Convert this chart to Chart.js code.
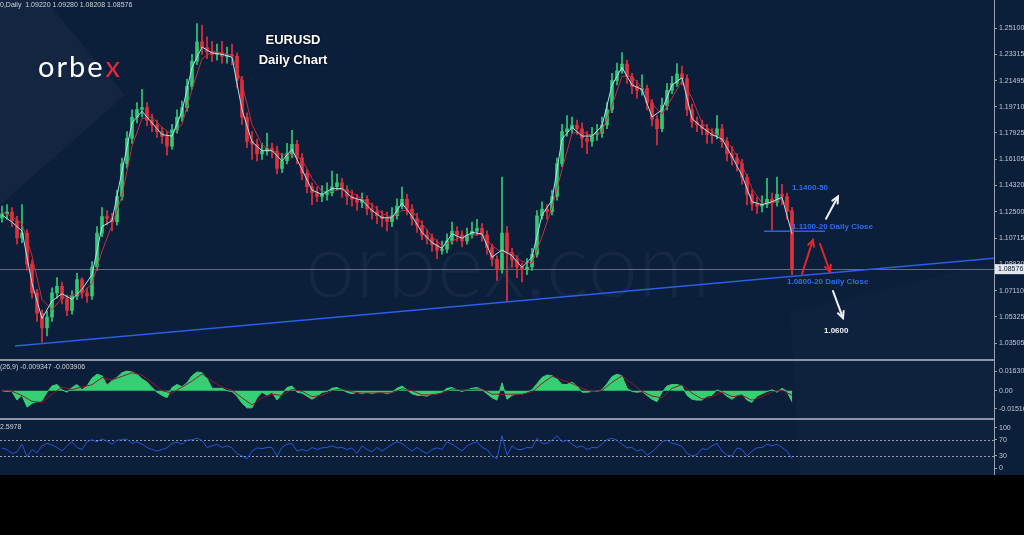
<!DOCTYPE html>
<html>
<head>
<meta charset="utf-8">
<script src="https://cdn.jsdelivr.net/npm/chart.js@4.4.0/dist/chart.umd.min.js"></script>
<style>
  html, body { margin: 0; padding: 0; background: #000; }
  #wrap { position: relative; width: 1024px; height: 535px; background: #000; overflow: hidden; }
  #bg { position: absolute; left: 0; top: 0; width: 1024px; height: 475px; background: #0b1e3a; }
  #shade { position: absolute; left: 0; top: 0; }
  canvas { position: absolute; left: 0; }
  #c1 { top: 0; }
  #c2 { top: 361px; }
  #c3 { top: 421px; }
  .sep { position: absolute; left: 0; width: 994px; height: 2px; background: #8e96a3; }
  #axisLine { position: absolute; left: 994px; top: 0; width: 1px; height: 475px; background: #9aa1ad; }
</style>
</head>
<body>
<div id="wrap">
  <div id="bg"></div>
  <svg id="shade" width="1024" height="475">
    <polygon points="0,0 45,0 125,95 0,205" fill="rgba(255,255,255,0.035)"/>
    <polygon points="790,312 994,262 994,475 800,475" fill="rgba(255,255,255,0.014)"/>
  </svg>
  <canvas id="c1" width="1024" height="360"></canvas>
  <canvas id="c2" width="1024" height="57"></canvas>
  <canvas id="c3" width="1024" height="54"></canvas>
  <div class="sep" style="top:359px"></div>
  <div class="sep" style="top:418px"></div>
  <div id="axisLine"></div>
</div>
<script>
// EURUSD daily, one entry per ~5px slot of the original chart
const firstOpen = 1.1210;
const closes = [
  1.1237,1.1250,1.1191,1.1072,1.1105,1.0893,1.0695,1.0556,1.0456,1.0529,
  1.0695,1.0741,1.0655,1.0576,1.0675,1.0787,1.0695,1.0675,1.0873,1.1105,
  1.1218,1.1205,1.1184,1.1356,1.1581,1.1754,1.1899,1.1952,1.1965,1.1879,
  1.1846,1.1800,1.1767,1.1701,1.1813,1.1899,1.1965,1.2111,1.2283,1.2415,
  1.2376,1.2349,1.2329,1.2343,1.2316,1.2329,1.2316,1.2151,1.1899,1.1734,
  1.1714,1.1648,1.1668,1.1687,1.1668,1.1548,1.1601,1.1648,1.1714,1.1621,
  1.1515,1.1423,1.1383,1.1356,1.1370,1.1383,1.1423,1.1449,1.1403,1.1356,
  1.1337,1.1317,1.1337,1.1270,1.1251,1.1224,1.1204,1.1184,1.1224,1.1290,
  1.1337,1.1270,1.1204,1.1158,1.1092,1.1072,1.1026,1.0986,1.0995,1.1052,
  1.1118,1.1092,1.1052,1.1092,1.1118,1.1138,1.1092,1.1006,1.0926,1.0854,
  1.1105,1.0973,1.0920,1.0873,1.0854,1.0873,1.0959,1.1224,1.1270,1.1251,
  1.1356,1.1581,1.1800,1.1820,1.1846,1.1820,1.1754,1.1734,1.1780,1.1790,
  1.1846,1.1952,1.2151,1.2217,1.2263,1.2177,1.2111,1.2084,1.2095,1.1998,
  1.1886,1.1820,1.1979,1.2084,1.2131,1.2197,1.2164,1.1952,1.1866,1.1846,
  1.1820,1.1780,1.1772,1.1820,1.1734,1.1648,1.1621,1.1581,1.1489,1.1370,
  1.1304,1.1290,1.1304,1.1337,1.1317,1.1370,1.1356,1.1257,1.0858
];
const highs = [
  1.1290,1.1300,1.1280,1.1220,1.1300,1.1130,1.0920,1.0720,1.0580,1.0570,
  1.0730,1.0800,1.0770,1.0680,1.0710,1.0830,1.0800,1.0730,1.0910,1.1150,
  1.1280,1.1260,1.1240,1.1400,1.1620,1.1800,1.1950,1.2000,1.2090,1.2000,
  1.1920,1.1880,1.1830,1.1800,1.1850,1.1950,1.2010,1.2160,1.2330,1.2541,
  1.2530,1.2450,1.2420,1.2400,1.2420,1.2380,1.2400,1.2340,1.2180,1.1930,
  1.1800,1.1750,1.1720,1.1790,1.1720,1.1700,1.1650,1.1720,1.1810,1.1740,
  1.1650,1.1540,1.1450,1.1420,1.1430,1.1450,1.1530,1.1510,1.1480,1.1430,
  1.1400,1.1370,1.1380,1.1360,1.1310,1.1290,1.1260,1.1250,1.1280,1.1340,
  1.1420,1.1370,1.1300,1.1240,1.1190,1.1130,1.1100,1.1060,1.1050,1.1100,
  1.1180,1.1150,1.1120,1.1140,1.1180,1.1200,1.1170,1.1120,1.1030,1.0950,
  1.1489,1.1150,1.1000,1.0950,1.0900,1.0930,1.1000,1.1260,1.1320,1.1300,
  1.1400,1.1620,1.1850,1.1910,1.1900,1.1880,1.1860,1.1800,1.1830,1.1850,
  1.1900,1.2000,1.2200,1.2270,1.2343,1.2290,1.2200,1.2150,1.2190,1.2120,
  1.2020,1.1910,1.2030,1.2130,1.2180,1.2266,1.2250,1.2190,1.1990,1.1900,
  1.1880,1.1850,1.1820,1.1910,1.1850,1.1760,1.1700,1.1650,1.1610,1.1510,
  1.1400,1.1350,1.1360,1.1480,1.1380,1.1489,1.1440,1.1380,1.1280
];
const lows = [
  1.1180,1.1200,1.1150,1.1030,1.1040,1.0850,1.0660,1.0500,1.0357,1.0400,
  1.0500,1.0660,1.0620,1.0540,1.0550,1.0650,1.0660,1.0630,1.0650,1.0850,
  1.1080,1.1160,1.1120,1.1160,1.1330,1.1550,1.1720,1.1860,1.1900,1.1840,
  1.1800,1.1760,1.1720,1.1640,1.1680,1.1790,1.1870,1.1940,1.2090,1.2260,
  1.2330,1.2300,1.2280,1.2290,1.2270,1.2270,1.2260,1.2100,1.1850,1.1690,
  1.1610,1.1600,1.1610,1.1640,1.1620,1.1510,1.1520,1.1580,1.1620,1.1580,
  1.1470,1.1380,1.1300,1.1320,1.1320,1.1330,1.1360,1.1400,1.1350,1.1300,
  1.1290,1.1260,1.1280,1.1230,1.1200,1.1170,1.1150,1.1120,1.1150,1.1200,
  1.1270,1.1230,1.1160,1.1110,1.1060,1.1030,1.0980,1.0930,1.0960,1.0970,
  1.1030,1.1050,1.1010,1.1030,1.1070,1.1090,1.1050,1.0960,1.0880,1.0780,
  1.0830,1.0636,1.0870,1.0800,1.0770,1.0820,1.0850,1.0940,1.1200,1.1200,
  1.1230,1.1330,1.1560,1.1770,1.1790,1.1780,1.1690,1.1650,1.1700,1.1740,
  1.1760,1.1820,1.1930,1.2120,1.2200,1.2130,1.2060,1.2030,1.2050,1.1950,
  1.1840,1.1710,1.1800,1.1950,1.2060,1.2110,1.2120,1.1910,1.1830,1.1800,
  1.1780,1.1720,1.1720,1.1750,1.1690,1.1600,1.1570,1.1530,1.1440,1.1300,
  1.1260,1.1240,1.1250,1.1280,1.1125,1.1290,1.1300,1.1200,1.0821
];
// moving averages, one value every second slot
const maFast = [
  1.1230,1.1180,1.1120,1.0760,1.0520,1.0640,1.0690,1.0650,1.0720,1.0820,
  1.1150,1.1190,1.1530,1.1860,1.1940,1.1860,1.1780,1.1770,1.1940,1.2240,
  1.2380,1.2340,1.2330,1.2310,1.1950,1.1730,1.1670,1.1670,1.1600,1.1680,
  1.1540,1.1400,1.1370,1.1410,1.1410,1.1350,1.1330,1.1260,1.1210,1.1210,
  1.1310,1.1220,1.1110,1.1040,1.1000,1.1100,1.1070,1.1110,1.1100,1.0940,
  1.0990,1.0950,1.0870,1.0940,1.1230,1.1330,1.1750,1.1830,1.1770,1.1770,
  1.1840,1.2120,1.2240,1.2120,1.2090,1.1900,1.1950,1.2120,1.2170,1.1890,
  1.1830,1.1780,1.1750,1.1630,1.1500,1.1320,1.1300,1.1320,1.1350,1.1100
];
const maSlow = [
  1.1250,1.1220,1.1170,1.0950,1.0650,1.0580,1.0660,1.0680,1.0690,1.0760,
  1.0980,1.1160,1.1360,1.1700,1.1890,1.1900,1.1830,1.1780,1.1850,1.2090,
  1.2300,1.2350,1.2340,1.2320,1.2130,1.1850,1.1710,1.1670,1.1640,1.1640,
  1.1610,1.1480,1.1390,1.1390,1.1410,1.1380,1.1340,1.1300,1.1240,1.1210,
  1.1260,1.1260,1.1170,1.1080,1.1020,1.1050,1.1080,1.1090,1.1100,1.1020,
  1.0970,1.0970,1.0910,1.0900,1.1080,1.1280,1.1540,1.1790,1.1800,1.1770,
  1.1800,1.1980,1.2180,1.2180,1.2100,1.1990,1.1920,1.2030,1.2150,1.2030,
  1.1860,1.1800,1.1760,1.1690,1.1570,1.1410,1.1310,1.1310,1.1340,1.1230
];
const macd = [
  0.0000,-0.0007,-0.0007,-0.0079,-0.0039,-0.0138,-0.0105,-0.0092,-0.0085,-0.0013,
  0.0039,0.0052,0.0007,-0.0013,0.0026,0.0052,0.0007,0.0039,0.0105,0.0138,
  0.0125,0.0046,0.0085,0.0111,0.0151,0.0164,0.0157,0.0138,0.0098,0.0072,
  0.0026,-0.0013,-0.0039,-0.0059,0.0026,0.0052,0.0033,0.0066,0.0125,0.0157,
  0.0151,0.0105,0.0020,0.0020,0.0020,0.0000,-0.0007,-0.0046,-0.0105,-0.0144,
  -0.0144,-0.0059,-0.0013,-0.0039,-0.0013,-0.0079,-0.0026,0.0026,0.0039,-0.0013,
  -0.0020,-0.0046,-0.0072,-0.0046,-0.0013,-0.0007,0.0020,0.0026,0.0007,-0.0013,
  -0.0026,-0.0013,-0.0026,-0.0013,-0.0026,-0.0013,-0.0013,-0.0026,-0.0013,0.0020,
  0.0039,0.0007,-0.0026,-0.0039,-0.0039,-0.0046,-0.0026,-0.0026,-0.0013,0.0020,
  0.0026,0.0007,-0.0007,0.0007,0.0020,0.0026,0.0007,-0.0026,-0.0059,-0.0079,
  0.0066,-0.0072,-0.0039,-0.0026,-0.0026,-0.0013,0.0007,0.0059,0.0111,0.0131,
  0.0125,0.0098,0.0052,0.0052,0.0072,0.0039,-0.0013,-0.0013,-0.0007,-0.0007,
  0.0007,0.0059,0.0118,0.0138,0.0125,0.0020,-0.0007,-0.0013,-0.0007,-0.0039,
  -0.0072,-0.0092,-0.0013,0.0039,0.0052,0.0052,0.0039,-0.0039,-0.0072,-0.0079,
  -0.0079,-0.0046,-0.0039,0.0007,-0.0013,-0.0046,-0.0072,-0.0039,-0.0026,-0.0079,
  -0.0098,-0.0046,-0.0026,-0.0007,0.0007,-0.0013,0.0020,-0.0007,-0.0093
];
const macdSignal = [
  0.0005,-0.0005,-0.0040,-0.0090,-0.0100,-0.0030,0.0030,0.0010,0.0030,0.0050,
  0.0110,0.0090,0.0120,0.0150,0.0130,0.0070,0.0000,-0.0020,0.0030,0.0080,
  0.0140,0.0080,0.0030,0.0005,-0.0060,-0.0120,-0.0060,-0.0030,-0.0040,0.0010,
  -0.0005,-0.0050,-0.0040,0.0000,0.0015,-0.0010,-0.0020,-0.0020,-0.0018,-0.0018,
  0.0015,0.0000,-0.0035,-0.0035,-0.0020,0.0015,0.0005,0.0010,0.0015,-0.0030,
  -0.0030,-0.0030,-0.0030,-0.0010,0.0060,0.0120,0.0090,0.0060,0.0020,-0.0008,
  0.0000,0.0070,0.0125,0.0060,-0.0005,-0.0045,-0.0060,0.0020,0.0050,-0.0020,
  -0.0070,-0.0050,-0.0010,-0.0050,-0.0040,-0.0080,-0.0050,-0.0010,0.0005,-0.0039
];
const rsi = [
  49.5,45.7,36.2,40,59,28,45.7,38,55,61,
  57,51,42,55,65,51,46,65,70,65,
  72,67,59,69,70,72,61,65,59,51,
  46,42,46,50,61,64,59,69,70,74,
  68,51,55,59,51,55,50,36,30,23,
  42,50,48,51,51,30,51,59,61,42,
  46,42,51,46,50,51,55,50,51,46,
  50,36,55,46,40,51,42,50,59,65,
  61,51,42,51,42,36,46,50,46,65,
  59,51,42,55,61,65,51,46,30,23,
  80,32,55,46,46,51,50,74,61,61,
  69,80,65,69,59,51,55,46,51,50,
  59,70,74,69,59,50,51,42,46,32,
  40,51,65,69,61,59,53,37,30,33,
  48,46,55,61,42,32,30,50,46,30,
  42,50,51,59,55,59,51,42,23
];

// axis labels (MT4 style price ladder)
const priceTicks = [1.25100,1.23315,1.21495,1.19710,1.17925,1.16105,1.14320,1.12500,1.10715,1.08930,1.07110,1.05325,1.03505];
const macdTicks = [0.016306, 0, -0.01516];
const macdTickLabels = ['0.016306', '0.00', '-0.01516'];
const rsiTicks = [100, 70, 30, 0];
const rsiLevels = [70, 30];

// drawn objects, in slot / price units
const trendX = [2.6, 198.4];
const trendY = [1.0331, 1.0933];
const supportX = [152.4, 164.6];
const supportY = [1.1118, 1.1118];
const arrowFrom = [[160.0, 1.0827], [163.6, 1.1032], [164.8, 1.1204], [166.2, 1.0708]];
const arrowTo = [[162.2, 1.1059], [165.6, 1.0840], [167.2, 1.1356], [168.2, 1.0523]];
const arrowColors = ['#e3262e', '#e3262e', '#eef0f4', '#eef0f4'];
const noteText = ['1.1400-50', '1.1100-20 Daily Close', '1.0800-20 Daily Close', '1.0600'];
const noteAt = [[158.0, 1.1416], [158.0, 1.1151], [157.0, 1.0768], [164.4, 1.0437]];
const noteColors = ['#2f6cf0', '#2f6cf0', '#2f6cf0', '#f2f4f8'];

const headerText = '0,Daily  1.09220 1.09280 1.08208 1.08576';
const macdLabel = '(26,9) -0.009347 -0.003906';
const rsiLabel = '2.5978';

const X_MIN = -0.4, X_MAX = 198.4;
const UP = '#33c873', DOWN = '#e2303c';
const axisFont = { family: 'Liberation Sans, Arial', size: 7 };

const opens = closes.map((c, i) => i === 0 ? firstOpen : closes[i - 1]);
const candleColors = closes.map((c, i) => c >= opens[i] ? UP : DOWN);

function rightAxis(min, max, ticks, fmt) {
  return {
    position: 'right', min: min, max: max,
    afterFit: s => { s.width = 30; },
    afterBuildTicks: s => { s.ticks = ticks.map(v => ({ value: v })); },
    ticks: { color: '#c3c8d2', font: axisFont, padding: 2, autoSkip: false, callback: fmt },
    grid: { drawOnChartArea: false, drawTicks: true, tickLength: 3, color: '#9aa1ad' },
    border: { color: '#9aa1ad' }
  };
}
function xAxis() {
  return { type: 'linear', min: X_MIN, max: X_MAX, offset: false, display: false };
}

function arrow(ctx, x0, y0, x1, y1, color) {
  const a = Math.atan2(y1 - y0, x1 - x0), h = 7;
  ctx.strokeStyle = color;
  ctx.lineWidth = 2;
  ctx.lineCap = 'round';
  ctx.beginPath(); ctx.moveTo(x0, y0); ctx.lineTo(x1, y1); ctx.stroke();
  ctx.beginPath();
  ctx.moveTo(x1 - h * Math.cos(a - 0.45), y1 - h * Math.sin(a - 0.45));
  ctx.lineTo(x1, y1);
  ctx.lineTo(x1 - h * Math.cos(a + 0.45), y1 - h * Math.sin(a + 0.45));
  ctx.stroke();
}

const mainDeco = {
  id: 'mainDeco',
  beforeDatasetsDraw(chart) {
    const ctx = chart.ctx, y = chart.scales.y, a = chart.chartArea;
    ctx.save();
    // watermark
    ctx.font = '300 90px Lato';
    ctx.fillStyle = 'rgba(255,255,255,0.045)';
    ctx.textBaseline = 'alphabetic';
    ctx.fillText('orbex.com', 305, 297);
    // last price line
    const py = Math.round(y.getPixelForValue(closes[closes.length - 1])) + 0.5;
    ctx.strokeStyle = 'rgba(170,176,188,0.55)';
    ctx.lineWidth = 1;
    ctx.beginPath(); ctx.moveTo(a.left, py); ctx.lineTo(a.right, py); ctx.stroke();
    ctx.restore();
  },
  afterDatasetsDraw(chart) {
    const ctx = chart.ctx, x = chart.scales.x, y = chart.scales.y;
    ctx.save();
    arrowFrom.forEach((p, i) => {
      arrow(ctx, x.getPixelForValue(p[0]), y.getPixelForValue(p[1]),
        x.getPixelForValue(arrowTo[i][0]), y.getPixelForValue(arrowTo[i][1]), arrowColors[i]);
    });
    ctx.font = 'bold 8px Liberation Sans, Arial';
    ctx.textBaseline = 'middle';
    noteText.forEach((t, i) => {
      ctx.fillStyle = noteColors[i];
      ctx.fillText(t, x.getPixelForValue(noteAt[i][0]), y.getPixelForValue(noteAt[i][1]));
    });
    ctx.restore();
  },
  afterDraw(chart) {
    const ctx = chart.ctx, y = chart.scales.y;
    ctx.save();
    // header line
    ctx.font = '7px Liberation Sans, Arial';
    ctx.fillStyle = '#d0d4dc';
    ctx.textBaseline = 'middle';
    ctx.fillText(headerText, 0, 5);
    // last price tag on axis
    const py = y.getPixelForValue(closes[closes.length - 1]);
    ctx.fillStyle = '#e4e7ec';
    ctx.fillRect(995, py - 5, 29, 10);
    ctx.fillStyle = '#0b1e3a';
    ctx.fillText('1.08576', 998, py);
    // logo
    ctx.font = '400 29px Lato';
    ctx.letterSpacing = '2px';
    ctx.textBaseline = 'alphabetic';
    ctx.fillStyle = '#ffffff';
    ctx.fillText('orbe', 38, 77);
    const w = ctx.measureText('orbe').width;
    ctx.fillStyle = '#e8283c';
    ctx.fillText('x', 38 + w + 1, 77);
    ctx.letterSpacing = '0px';
    // title
    ctx.font = 'bold 13px Liberation Sans, Arial';
    ctx.textAlign = 'center';
    ctx.fillStyle = '#ffffff';
    ctx.shadowColor = 'rgba(0,0,0,0.9)';
    ctx.shadowBlur = 2;
    ctx.fillText('EURUSD', 293, 44);
    ctx.fillText('Daily Chart', 293, 64);
    ctx.restore();
  }
};

new Chart(document.getElementById('c1'), {
  type: 'bar',
  data: {
    datasets: [
      { type: 'line', data: maFast.map((v, i) => ({ x: i * 2, y: v })), borderColor: '#a9e4f2', borderWidth: 1, pointRadius: 0, order: 0 },
      { type: 'line', data: maSlow.map((v, i) => ({ x: i * 2, y: v })), borderColor: '#c7303a', borderWidth: 1, pointRadius: 0, order: 1 },
      { type: 'line', data: trendX.map((v, i) => ({ x: v, y: trendY[i] })), borderColor: '#2a5fe6', borderWidth: 1.6, pointRadius: 0, order: 2 },
      { type: 'line', data: supportX.map((v, i) => ({ x: v, y: supportY[i] })), borderColor: '#2a5fe6', borderWidth: 1.5, pointRadius: 0, order: 2 },
      { data: closes.map((c, i) => ({ x: i, y: [opens[i], c] })), backgroundColor: candleColors, barThickness: 3, grouped: false, order: 3 },
      { data: closes.map((c, i) => ({ x: i, y: [lows[i], highs[i]] })), backgroundColor: candleColors, barThickness: 1, grouped: false, order: 4 }
    ]
  },
  options: {
    responsive: false, animation: false,
    plugins: { legend: { display: false }, tooltip: { enabled: false } },
    scales: { x: xAxis(), y: rightAxis(1.0278, 1.2660, priceTicks, v => v.toFixed(5)) }
  },
  plugins: [mainDeco]
});

const labelDeco = (text) => ({
  id: 'lbl',
  afterDraw(chart) {
    const ctx = chart.ctx;
    ctx.save();
    ctx.font = '7px Liberation Sans, Arial';
    ctx.fillStyle = '#d0d4dc';
    ctx.textBaseline = 'middle';
    ctx.fillText(text, 0, 6);
    ctx.restore();
  }
});

new Chart(document.getElementById('c2'), {
  type: 'line',
  data: {
    datasets: [
      { data: macdSignal.map((v, i) => ({ x: i * 2, y: v })), borderColor: '#8e1b30', borderWidth: 1, pointRadius: 0, order: 0 },
      { data: macd.map((v, i) => ({ x: i, y: v })), borderColor: '#35d074', backgroundColor: '#35d074', fill: 'origin', borderWidth: 1, pointRadius: 0, order: 1 }
    ]
  },
  options: {
    responsive: false, animation: false,
    plugins: { legend: { display: false }, tooltip: { enabled: false } },
    scales: { x: xAxis(), y: rightAxis(-0.0177, 0.01967, macdTicks, (v, i) => macdTickLabels[i]) }
  },
  plugins: [labelDeco(macdLabel)]
});

const rsiDeco = {
  id: 'rsiDeco',
  beforeDatasetsDraw(chart) {
    const ctx = chart.ctx, y = chart.scales.y, a = chart.chartArea;
    ctx.save();
    ctx.strokeStyle = '#9aa1ad';
    ctx.setLineDash([2, 2]);
    ctx.lineWidth = 1;
    rsiLevels.forEach(l => {
      const py = Math.round(y.getPixelForValue(l)) + 0.5;
      ctx.beginPath(); ctx.moveTo(a.left, py); ctx.lineTo(a.right, py); ctx.stroke();
    });
    ctx.restore();
  }
};

new Chart(document.getElementById('c3'), {
  type: 'line',
  data: {
    datasets: [
      { data: rsi.map((v, i) => ({ x: i, y: v })), borderColor: '#2456d6', borderWidth: 1, pointRadius: 0 }
    ]
  },
  options: {
    responsive: false, animation: false,
    plugins: { legend: { display: false }, tooltip: { enabled: false } },
    scales: { x: xAxis(), y: rightAxis(-1.8, 101.1, rsiTicks, v => String(v)) }
  },
  plugins: [rsiDeco, labelDeco(rsiLabel)]
});
</script>
</body>
</html>
